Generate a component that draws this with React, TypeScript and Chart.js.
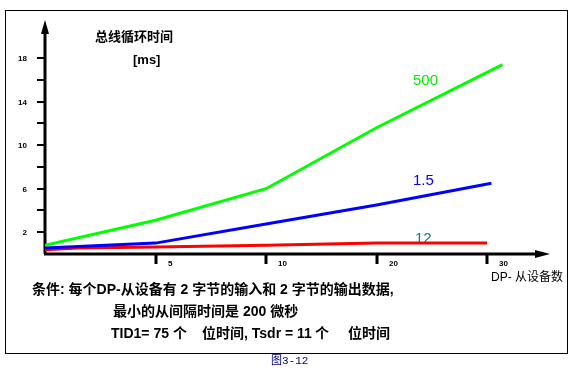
import React, { useEffect, useRef } from "react";
import { Chart, registerables } from "chart.js";

Chart.register(...registerables);

// x positions: 0 = origin, 1..4 = ticks "5","10","20","30" (evenly spaced in the picture)
const xTickPositions = [1, 2, 3, 4];
const xTickLabels = ["5", "10", "20", "30"];
const yMajorTicks = [18, 14, 10, 6, 2];
const yTickLabels = ["18", "14", "10", "6", "2"];
const yMinorTicks = [16, 12, 8, 4];

const series500X = [0, 1, 2, 3, 4.14];
const series500Y = [0.8, 3.1, 6.0, 11.6, 17.4];
const series15X = [0, 1, 2, 3, 4.04];
const series15Y = [0.55, 1.0, 2.75, 4.5, 6.5];
const series12X = [0, 0.3, 1, 2, 3, 4.0];
const series12Y = [0.4, 0.55, 0.65, 0.8, 1.0, 1.0];

const seriesNames = ["500", "1.5", "12"];
const titleText = "总线循环时间";
const unitText = "[ms]";
const xAxisTitle = "DP- 从设备数";
const noteLine1 = "条件: 每个DP-从设备有 2 字节的输入和 2 字节的输出数据,";
const noteLine2 = "最小的从间隔时间是 200 微秒";
const noteLine3Parts = ["TID1= 75", "个", "位时间, Tsdr = 11", "个", "位时间"];
const captionText = "图3-12";

const zip = (xs: number[], ys: number[]) => xs.map((x, i) => ({ x, y: ys[i] }));

const FONT_B = '"Liberation Sans", "Noto Sans CJK SC", sans-serif';

const decorPlugin = {
  id: "decor",
  beforeDatasetsDraw(chart: any) {
    const ctx = chart.ctx as CanvasRenderingContext2D;
    const xs = chart.scales.x;
    const ys = chart.scales.y;
    const x0 = xs.getPixelForValue(0);
    const y0 = ys.getPixelForValue(0);
    ctx.save();
    // frame
    ctx.strokeStyle = "#000";
    ctx.lineWidth = 1;
    ctx.strokeRect(5.5, 10.5, 562, 343);

    // axes
    ctx.lineWidth = 3;
    ctx.beginPath();
    ctx.moveTo(x0, y0);
    ctx.lineTo(x0, 30);
    ctx.moveTo(x0 - 1, y0);
    ctx.lineTo(540, y0);
    ctx.stroke();
    ctx.fillStyle = "#000";
    // y arrow
    ctx.beginPath();
    ctx.moveTo(x0, 20);
    ctx.lineTo(x0 - 4, 34);
    ctx.lineTo(x0 + 4, 34);
    ctx.closePath();
    ctx.fill();
    // x arrow
    ctx.beginPath();
    ctx.moveTo(550, y0);
    ctx.lineTo(535, y0 - 4);
    ctx.lineTo(535, y0 + 4);
    ctx.closePath();
    ctx.fill();

    // y ticks
    ctx.lineWidth = 2;
    [...yMajorTicks, ...yMinorTicks].forEach((v) => {
      const py = Math.round(ys.getPixelForValue(v));
      ctx.beginPath();
      ctx.moveTo(x0 - 8, py);
      ctx.lineTo(x0, py);
      ctx.stroke();
    });
    ctx.font = "bold 8px " + FONT_B;
    ctx.textAlign = "right";
    ctx.textBaseline = "middle";
    yMajorTicks.forEach((v, i) => {
      ctx.fillText(yTickLabels[i], 27, ys.getPixelForValue(v) + 1);
    });

    // x ticks
    ctx.lineWidth = 3;
    ctx.textAlign = "left";
    xTickPositions.forEach((p, i) => {
      const px = Math.round(xs.getPixelForValue(p));
      ctx.beginPath();
      ctx.moveTo(px, y0);
      ctx.lineTo(px, y0 + 10);
      ctx.stroke();
      ctx.fillText(xTickLabels[i], px + 12, y0 + 10);
    });

    // titles
    ctx.font = "bold 13px " + FONT_B;
    ctx.textBaseline = "middle";
    ctx.fillText(titleText, 95, 37);
    ctx.fillText(unitText, 133, 60);

    ctx.font = "12px " + FONT_B;
    ctx.fillText(xAxisTitle, 491, 278);

    ctx.font = "bold 14px " + FONT_B;
    ctx.fillText(noteLine1, 32, 290);
    ctx.fillText(noteLine2, 113, 312);
    const line3X = [111, 173, 202, 315, 348];
    noteLine3Parts.forEach((t, i) => ctx.fillText(t, line3X[i], 334));

    // series labels
    ctx.font = "15px " + FONT_B;
    ctx.fillStyle = "#00ee00";
    ctx.fillText(seriesNames[0], 413, 81);
    ctx.fillStyle = "#0000ff";
    ctx.fillText(seriesNames[1], 413, 181);
    ctx.fillStyle = "#008080";
    ctx.fillText(seriesNames[2], 415, 239);

    // caption
    ctx.font = '11px "Liberation Mono", "Noto Sans CJK SC", monospace';
    ctx.fillStyle = "#000080";
    ctx.fillText(captionText, 271, 361);
    ctx.restore();
  },
};

export default function App() {
  const ref = useRef<HTMLCanvasElement | null>(null);
  useEffect(() => {
    document.body.style.margin = "0";
    const canvas = ref.current!;
    const chart = new Chart(canvas, {
      type: "line",
      data: {
        datasets: [
          {
            label: seriesNames[0],
            data: zip(series500X, series500Y),
            borderColor: "#00ff00",
            borderWidth: 3,
            pointRadius: 0,
            tension: 0,
          },
          {
            label: seriesNames[1],
            data: zip(series15X, series15Y),
            borderColor: "#0000ff",
            borderWidth: 3,
            pointRadius: 0,
            tension: 0,
          },
          {
            label: seriesNames[2],
            data: zip(series12X, series12Y),
            borderColor: "#ff0000",
            borderWidth: 3,
            pointRadius: 0,
            tension: 0,
          },
        ],
      },
      options: {
        animation: false,
        responsive: false,
        devicePixelRatio: 1,
        layout: { padding: { left: 45, right: 25, top: 20, bottom: 124 } },
        plugins: { legend: { display: false }, tooltip: { enabled: false } },
        scales: {
          x: { type: "linear", min: 0, max: 4.57, display: false },
          y: { type: "linear", min: 0, max: 21.5, display: false },
        },
      },
      plugins: [decorPlugin],
    });
    return () => chart.destroy();
  }, []);
  return (
    <div style={{ width: 575, height: 378, background: "#fff" }}>
      <canvas ref={ref} width={575} height={378} />
    </div>
  );
}
